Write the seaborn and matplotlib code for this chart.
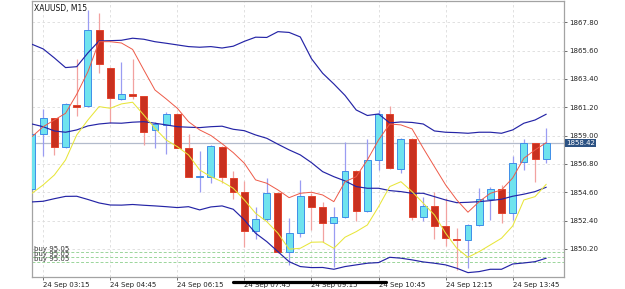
import numpy as np
import pandas as pd
import matplotlib
matplotlib.use("Agg")
import matplotlib.pyplot as plt
import matplotlib.transforms as mtransforms
from matplotlib.lines import Line2D
import seaborn as sns

# ---------------- data ----------------
title = "XAUUSD, M15"
open_ = [1854.86, 1859.10, 1860.35, 1858.10, 1861.40, 1861.30, 1867.18, 1864.23, 1861.82, 1862.21,
         1862.08, 1859.44, 1859.83, 1860.70, 1858.06, 1855.76, 1855.81, 1858.14, 1855.69, 1854.60,
         1851.60, 1852.53, 1854.52, 1849.99, 1851.42, 1854.31, 1853.48, 1852.19, 1852.71, 1856.25,
         1853.17, 1857.08, 1860.66, 1856.39, 1858.72, 1852.66, 1853.56, 1851.98, 1851.00, 1850.90,
         1852.04, 1854.06, 1854.83, 1852.97, 1856.98, 1858.41, 1857.16]
high_ = [1859.30, 1861.07, 1860.40, 1861.50, 1864.93, 1868.75, 1868.50, 1864.30, 1864.74, 1864.93,
         1862.10, 1860.08, 1860.81, 1860.75, 1859.10, 1857.83, 1858.25, 1858.20, 1856.25, 1855.48,
         1853.44, 1855.69, 1854.60, 1852.63, 1855.56, 1854.57, 1853.82, 1853.44, 1858.48, 1856.30,
         1858.72, 1860.99, 1861.30, 1858.80, 1858.80, 1854.26, 1854.65, 1854.14, 1851.85, 1852.14,
         1854.96, 1855.04, 1855.17, 1857.42, 1858.74, 1858.45, 1859.57]
low_ = [1854.70, 1857.44, 1857.50, 1858.00, 1860.55, 1861.20, 1863.89, 1859.96, 1861.75, 1861.82,
        1858.27, 1858.02, 1857.55, 1858.00, 1855.75, 1854.60, 1855.30, 1855.35, 1854.08, 1850.38,
        1850.97, 1852.40, 1849.90, 1848.96, 1851.15, 1851.67, 1850.72, 1848.82, 1852.60, 1852.40,
        1853.10, 1856.33, 1856.40, 1856.08, 1852.45, 1852.40, 1850.97, 1850.43, 1848.57, 1848.70,
        1852.00, 1852.45, 1852.19, 1852.45, 1856.33, 1855.42, 1856.85]
close_ = [1859.10, 1860.35, 1858.10, 1861.43, 1861.25, 1867.18, 1864.54, 1861.90, 1862.26, 1862.10,
          1859.31, 1859.88, 1860.66, 1858.06, 1855.81, 1855.86, 1858.20, 1855.77, 1854.65, 1851.60,
          1852.50, 1854.52, 1849.99, 1851.42, 1854.34, 1853.48, 1852.24, 1852.68, 1856.28, 1853.17,
          1857.08, 1860.66, 1856.46, 1858.72, 1852.66, 1853.56, 1851.98, 1851.03, 1850.88, 1852.04,
          1854.06, 1854.83, 1852.97, 1856.90, 1858.41, 1857.16, 1858.42]

bb_upper = [1866.09, 1865.73, 1865.03, 1864.28, 1864.35, 1865.42, 1866.35, 1866.37, 1866.40, 1866.56,
            1866.48, 1866.29, 1866.17, 1866.04, 1865.91, 1865.86, 1865.91, 1865.80, 1865.94, 1866.32,
            1866.64, 1866.62, 1867.07, 1867.01, 1866.66, 1864.97, 1863.84, 1863.01, 1862.12, 1860.99,
            1860.56, 1860.68, 1859.98, 1860.06, 1860.02, 1859.90, 1859.36, 1859.26, 1859.23, 1859.18,
            1859.26, 1859.26, 1859.18, 1859.44, 1859.96, 1860.21, 1860.66]
bb_middle = [1859.90, 1859.69, 1859.36, 1859.26, 1859.44, 1859.75, 1859.90, 1859.98, 1859.96, 1860.04,
             1860.08, 1859.96, 1859.83, 1859.69, 1859.65, 1859.62, 1859.69, 1859.73, 1859.49, 1859.38,
             1859.05, 1858.79, 1858.33, 1857.89, 1857.50, 1856.90, 1856.20, 1855.81, 1855.48, 1855.04,
             1854.91, 1854.91, 1854.73, 1854.65, 1854.52, 1854.52, 1854.26, 1854.00, 1853.79, 1853.82,
             1853.87, 1853.95, 1854.06, 1854.29, 1854.45, 1854.65, 1854.99]
bb_lower = [1853.85, 1853.90, 1854.10, 1854.28, 1854.29, 1854.04, 1853.77, 1853.61, 1853.60, 1853.65,
            1853.59, 1853.54, 1853.48, 1853.41, 1853.48, 1853.23, 1853.46, 1853.54, 1853.28, 1852.45,
            1851.42, 1850.77, 1849.99, 1849.21, 1848.83, 1848.75, 1848.76, 1848.62, 1848.83, 1848.96,
            1849.09, 1849.14, 1849.55, 1849.48, 1849.35, 1849.19, 1849.09, 1848.96, 1848.70, 1848.36,
            1848.44, 1848.62, 1848.62, 1849.03, 1849.11, 1849.21, 1849.48]
ma_red = [1858.92, 1859.69, 1860.21, 1860.73, 1862.21, 1863.96, 1866.29, 1866.29, 1866.19, 1865.69,
          1864.10, 1862.54, 1861.85, 1861.12, 1860.08, 1859.44, 1859.01, 1858.37, 1857.68, 1856.85,
          1855.56, 1855.30, 1854.78, 1854.18, 1854.52, 1854.60, 1854.39, 1853.87, 1855.42, 1855.81,
          1857.11, 1858.66, 1859.90, 1859.83, 1859.52, 1858.02, 1856.59, 1855.17, 1854.00, 1853.05,
          1853.87, 1854.52, 1854.78, 1855.71, 1857.24, 1857.89, 1858.45]
ma_yellow = [1854.52, 1855.17, 1855.94, 1857.11, 1859.05, 1860.21, 1861.25, 1861.12, 1861.46, 1861.59,
             1860.60, 1859.57, 1858.66, 1858.14, 1857.50, 1856.33, 1855.81, 1855.42, 1854.91, 1854.00,
             1852.97, 1852.32, 1851.42, 1850.18, 1850.25, 1850.72, 1850.74, 1850.25, 1851.11, 1851.54,
             1852.06, 1853.48, 1855.04, 1855.42, 1854.65, 1853.75, 1852.84, 1851.42, 1850.25, 1849.55,
             1849.99, 1850.51, 1851.03, 1851.98, 1854.00, 1854.26, 1855.22]

x_tick_pos = [1, 7, 13, 19, 25, 31, 37, 43]
x_tick_labels = ["24 Sep 03:15", "24 Sep 04:45", "24 Sep 06:15", "24 Sep 07:45",
                 "24 Sep 09:15", "24 Sep 10:45", "24 Sep 12:15", "24 Sep 13:45"]
y_ticks = [1850.20, 1852.40, 1854.60, 1856.80, 1859.00, 1861.20, 1863.40, 1865.60, 1867.80]
current_price = 1858.42
buy_levels = [1849.94, 1849.55, 1849.17]
buy_labels = ["buy 95.05", "buy 95.05", "buy 95.05"]

# ---------------- figure ----------------
sns.set_theme(style="white")
plt.rcParams["font.family"] = ["DejaVu Sans"]

W, H = 625, 289
fig = plt.figure(figsize=(W / 100, H / 100), dpi=100)
fig.patch.set_facecolor("white")
ax = fig.add_axes([32 / W, 1 - 277 / H, (564 - 32) / W, (277 - 1) / H])
ax.set_facecolor("white")

df = pd.DataFrame({"open": open_, "high": high_, "low": low_, "close": close_,
                   "upper": bb_upper, "middle": bb_middle, "lower": bb_lower,
                   "red": ma_red, "yellow": ma_yellow})
df["idx"] = np.arange(len(df))
bull = df["close"] >= df["open"]

# wicks
ax.vlines(df.loc[bull, "idx"], df.loc[bull, "low"], df.loc[bull, "high"],
          colors="#9a9cf2", linewidth=0.9, zorder=2)
ax.vlines(df.loc[~bull, "idx"], df.loc[~bull, "low"], df.loc[~bull, "high"],
          colors="#f2a2a0", linewidth=0.9, zorder=2)

# bodies
body_bottom = np.minimum(df["open"], df["close"])
body_h = np.maximum(np.abs(df["close"] - df["open"]), 0.12)
ax.bar(df.loc[bull, "idx"], body_h[bull], bottom=body_bottom[bull], width=0.62,
       color="#6fe3ee", edgecolor="#3f8ee8", linewidth=0.7, zorder=3)
ax.bar(df.loc[~bull, "idx"], body_h[~bull], bottom=body_bottom[~bull], width=0.62,
       color="#c9301f", edgecolor="#e2442e", linewidth=0.7, zorder=3)

# indicator lines
for col, c, lw in [("upper", "#2424a6", 0.85), ("middle", "#2424a6", 0.85),
                   ("lower", "#2424a6", 0.85), ("red", "#ee5a48", 0.7),
                   ("yellow", "#e8e63a", 0.75)]:
    sns.lineplot(data=df, x="idx", y=col, ax=ax, color=c, linewidth=lw,
                 zorder=4, legend=False)

# current price line
ax.axhline(current_price, color="#b3bbcc", linewidth=0.9, zorder=1.5)

# buy order lines
for lvl, lab in zip(buy_levels, buy_labels):
    ax.axhline(lvl, color="#9ad59a", linewidth=0.7, linestyle=(0, (3, 2)), zorder=1.5)
    ax.text(0.2, lvl + 0.04, lab, fontsize=5, color="#333333", va="bottom",
            ha="left", zorder=5)

# axes limits / ticks
ax.set_xlim(0.0, 47.59)
ax.set_ylim(1848.02, 1869.45)
ax.set_xlabel("")
ax.set_ylabel("")
ax.yaxis.tick_right()
ax.set_yticks(y_ticks)
ax.set_yticklabels([f"{v:.2f}" for v in y_ticks])
ax.set_xticks(x_tick_pos)
ax.set_xticklabels(x_tick_labels)
for lbl in ax.get_xticklabels():
    lbl.set_ha("left")
ax.tick_params(axis="both", which="both", labelsize=5, length=2, width=0.6,
               color="#555555", labelcolor="#222222", pad=1.5)
ax.tick_params(axis="y", left=False, right=True)
ax.tick_params(axis="x", bottom=True)

ax.grid(True, color="#dcdcdc", linestyle=(0, (3, 3)), linewidth=0.6)
ax.set_axisbelow(True)
for s in ax.spines.values():
    s.set_color("#a3a3a3")
    s.set_linewidth(0.9)
    s.set_visible(True)

# title
ax.text(0.003, 0.988, title, transform=ax.transAxes, fontsize=5.5,
        va="top", ha="left", color="#111111", zorder=6)

# current price label box
trans = mtransforms.blended_transform_factory(ax.transAxes, ax.transData)
ax.text(1.004, current_price, f"{current_price:.2f}", transform=trans,
        fontsize=5, color="white", va="center", ha="left", zorder=6,
        bbox=dict(boxstyle="square,pad=0.2", fc="#2c5283", ec="none"),
        clip_on=False)

# black stroke over the bottom labels (as in the screenshot)
fig.add_artist(Line2D([233 / W, 386 / W], [1 - 281.5 / H, 1 - 281.5 / H],
                      color="black", linewidth=2.3, solid_capstyle="round"))

fig.savefig("out.png", dpi=100, facecolor="white")
